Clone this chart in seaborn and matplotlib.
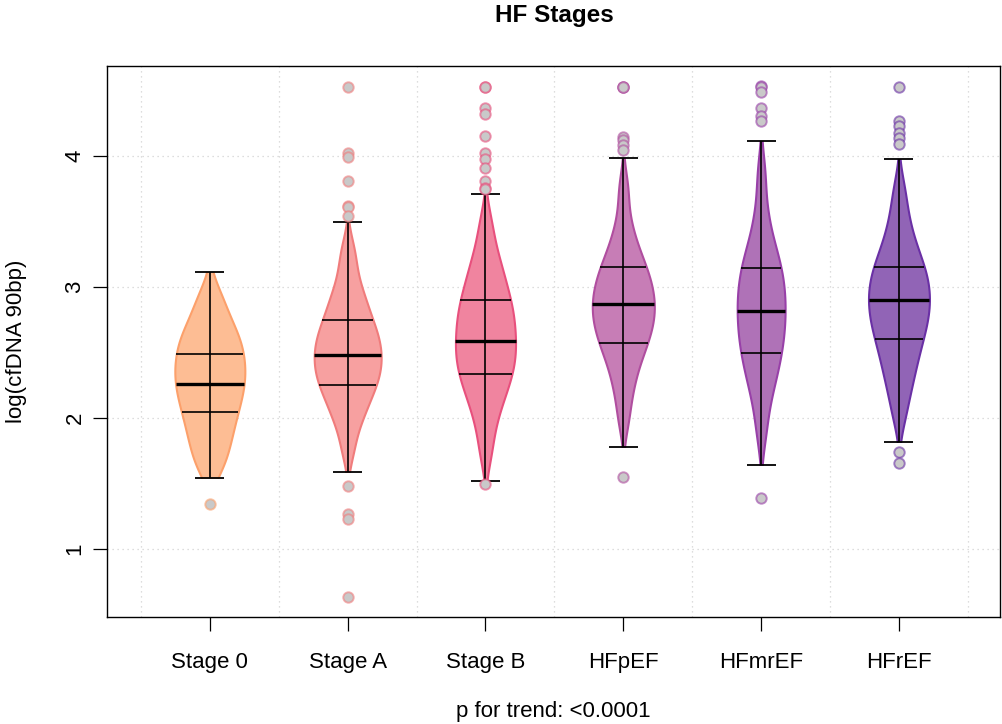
import numpy as np
import pandas as pd
import seaborn as sns
import matplotlib.pyplot as plt
from matplotlib.colors import to_rgba
from matplotlib.patches import Rectangle

sns.set_theme(style="white")
plt.rcParams["font.family"] = ["Liberation Sans", "DejaVu Sans"]

# ---- data -------------------------------------------------------------
stages = ["Stage 0", "Stage A", "Stage B", "HFpEF", "HFmrEF", "HFrEF"]

# log(cfDNA 90bp) values strictly inside the whiskers, per stage
stage0_vals = [1.60, 1.69, 1.78, 1.85, 1.92, 1.98, 2.04, 2.096, 2.143, 2.19,
               2.236, 2.28, 2.323, 2.365, 2.41, 2.45, 2.498, 2.545, 2.59, 2.64,
               2.69, 2.77, 2.85, 2.97]
stageA_vals = [1.76, 1.94, 2.03, 2.10, 2.17, 2.22, 2.268, 2.308, 2.348, 2.389,
               2.429, 2.469, 2.508, 2.547, 2.586, 2.63, 2.675, 2.72, 2.775, 2.845,
               2.916, 2.986, 3.13, 3.29]
stageB_vals = [1.737, 1.938, 2.062, 2.16, 2.224, 2.287, 2.347, 2.395, 2.442, 2.49,
               2.538, 2.585, 2.636, 2.687, 2.738, 2.789, 2.84, 2.89, 2.952, 3.02,
               3.10, 3.18, 3.296, 3.49]
hfpef_vals = [1.995, 2.194, 2.309, 2.422, 2.486, 2.549, 2.605, 2.653, 2.698, 2.74,
              2.782, 2.823, 2.866, 2.905, 2.944, 2.991, 3.038, 3.085, 3.133, 3.188,
              3.267, 3.352, 3.498, 3.75]
hfmref_vals = [1.886, 2.097, 2.227, 2.319, 2.389, 2.458, 2.522, 2.577, 2.632, 2.687,
               2.739, 2.79, 2.843, 2.895, 2.946, 3.0, 3.054, 3.107, 3.166, 3.235,
               3.305, 3.42, 3.59, 3.869]
hfref_vals = [2.02, 2.193, 2.293, 2.392, 2.468, 2.535, 2.604, 2.659, 2.711, 2.758,
              2.804, 2.851, 2.898, 2.942, 2.985, 3.032, 3.08, 3.128, 3.182, 3.243,
              3.319, 3.418, 3.547, 3.74]

# box statistics
whisk_lo = [1.544, 1.590, 1.519, 1.781, 1.644, 1.819]
q1 = [2.043, 2.254, 2.338, 2.575, 2.499, 2.605]
median = [2.257, 2.478, 2.588, 2.868, 2.819, 2.903]
q3 = [2.486, 2.750, 2.900, 3.150, 3.145, 3.155]
whisk_hi = [3.117, 3.494, 3.710, 3.985, 4.112, 3.977]

# outlying observations
stage0_out = [1.346]
stageA_out = [4.529, 4.021, 3.990, 3.809, 3.618, 3.610, 3.544, 1.483, 1.265, 1.231, 0.636]
stageB_out = [4.529, 4.525, 4.369, 4.318, 4.155, 4.025, 3.975, 3.908, 3.809, 3.753, 3.745, 1.494]
hfpef_out = [4.529, 4.527, 4.525, 4.142, 4.122, 4.084, 4.046, 1.547]
hfmref_out = [4.534, 4.529, 4.490, 4.369, 4.305, 4.267, 1.387]
hfref_out = [4.529, 4.267, 4.226, 4.178, 4.135, 4.092, 1.743, 1.659]

title = "HF Stages"
y_label = "log(cfDNA 90bp)"
x_label = "p for trend: <0.0001"

# ---- style ---------------------------------------------------------------
fill_colors = ["#FDBD94", "#F7A0A0", "#F0849F", "#C77DB6", "#AF72B7", "#9164B6"]
edge_colors = ["#FCA06B", "#F07C7C", "#E8507D", "#B04E9F", "#9840A8", "#6A30A5"]
violin_half_widths = [0.254, 0.243, 0.218, 0.225, 0.174, 0.221]

# ---- tidy frames ---------------------------------------------------------
groups = [stage0_vals, stageA_vals, stageB_vals, hfpef_vals, hfmref_vals, hfref_vals]
outs = [stage0_out, stageA_out, stageB_out, hfpef_out, hfmref_out, hfref_out]
df = pd.DataFrame({
    "stage": np.repeat(stages, [len(g) for g in groups]),
    "value": np.concatenate(groups),
})
df_out = pd.DataFrame({
    "stage": np.repeat(stages, [len(o) for o in outs]),
    "value": np.concatenate(outs),
})

# ---- figure ---------------------------------------------------------------
fig = plt.figure(figsize=(10.03, 7.24), dpi=100)
ax = fig.add_axes([0.1067, 0.1478, 0.8903, 0.7610])

sns.violinplot(
    data=df, x="stage", y="value", hue="stage", order=stages, hue_order=stages,
    palette=fill_colors, legend=False, inner=None, cut=3, density_norm="width",
    width=0.5, linewidth=1.5, bw_adjust=0.65, saturation=1, ax=ax, zorder=2,
)

violins = list(ax.collections)
violins.sort(key=lambda c: c.get_paths()[0].vertices[:, 0].mean())

pos = np.arange(len(stages))
for i, v in enumerate(violins):
    verts = v.get_paths()[0].vertices.copy()
    # each violin gets its own maximum width
    scale = violin_half_widths[i] / np.abs(verts[:, 0] - i).max()
    verts[:, 0] = i + (verts[:, 0] - i) * scale
    v.set_verts([verts])
    v.set_edgecolor(edge_colors[i])
    # the density is shown only between the whiskers
    clip = Rectangle((i - 0.5, whisk_lo[i]), 1.0, whisk_hi[i] - whisk_lo[i],
                     transform=ax.transData)
    v.set_clip_path(clip)


def half_width(poly, xc, y):
    verts = poly.get_paths()[0].vertices
    right = verts[verts[:, 0] > xc + 1e-6]
    order = np.argsort(right[:, 1])
    return np.interp(y, right[order, 1], right[order, 0]) - xc


# centre line and whisker caps
ax.vlines(pos, whisk_lo, whisk_hi, color="black", lw=1.2, zorder=4)
cap = 0.105
ax.hlines(whisk_lo, pos - cap, pos + cap, color="black", lw=1.3, zorder=4)
ax.hlines(whisk_hi, pos - cap, pos + cap, color="black", lw=1.3, zorder=4)

# quartile and median bars spanning the violin
for i, poly in enumerate(violins):
    for yv, lw in ((q1[i], 1.2), (q3[i], 1.2), (median[i], 2.4)):
        hw = half_width(poly, i, yv)
        ax.hlines(yv, i - hw, i + hw, color="black", lw=lw, zorder=4)

# outliers
n_before = len(ax.collections)
sns.stripplot(
    data=df_out, x="stage", y="value", hue="stage", order=stages, hue_order=stages,
    palette=["#C9C9C9"] * len(stages), legend=False, jitter=False, size=7.5,
    linewidth=1.4, ax=ax, zorder=5,
)
for c in ax.collections[n_before:]:
    offs = c.get_offsets()
    if len(offs) == 0:
        continue
    idx = int(round(float(np.asarray(offs)[0, 0])))
    c.set_facecolor("#C9C9C9")
    c.set_edgecolor(to_rgba(edge_colors[idx], 0.6))

# ---- axes styling ----------------------------------------------------------
ax.set_xlim(-0.746, 5.733)
ax.set_ylim(0.481, 4.687)
ax.set_yticks([1, 2, 3, 4])
ax.set_xticks(pos)
ax.set_xticklabels(stages)
ax.set_xticks(np.arange(-0.5, len(stages), 1), minor=True)

ax.grid(False)
ax.grid(True, which="minor", axis="x", color="#D3D3D3", lw=0.9, ls=(0, (1, 3)), zorder=0)
ax.grid(True, which="major", axis="y", color="#D3D3D3", lw=0.9, ls=(0, (1, 3)), zorder=0)
ax.set_axisbelow(True)

for sp in ax.spines.values():
    sp.set_color("black")
    sp.set_linewidth(1.0)

ax.tick_params(axis="both", which="major", bottom=True, left=True, direction="out",
               length=10, width=0.9, color="black", labelsize=16, labelcolor="black")
ax.tick_params(axis="x", which="major", pad=15)
ax.tick_params(axis="y", which="major", pad=13)
ax.tick_params(axis="x", which="minor", bottom=False, length=0)
plt.setp(ax.get_yticklabels(), rotation=90, va="center", ha="center")

ax.set_xlabel(x_label, fontsize=16, color="black", va="center")
ax.xaxis.set_label_coords(0.5, -0.172)
ax.set_ylabel(y_label, fontsize=16, color="black", va="center")
ax.yaxis.set_label_coords(-0.101, 0.5)

fig.text(0.553, 0.979, title, fontsize=17.5, fontweight="bold", ha="center",
         va="center", color="black")

fig.savefig("out.png", dpi=100)
